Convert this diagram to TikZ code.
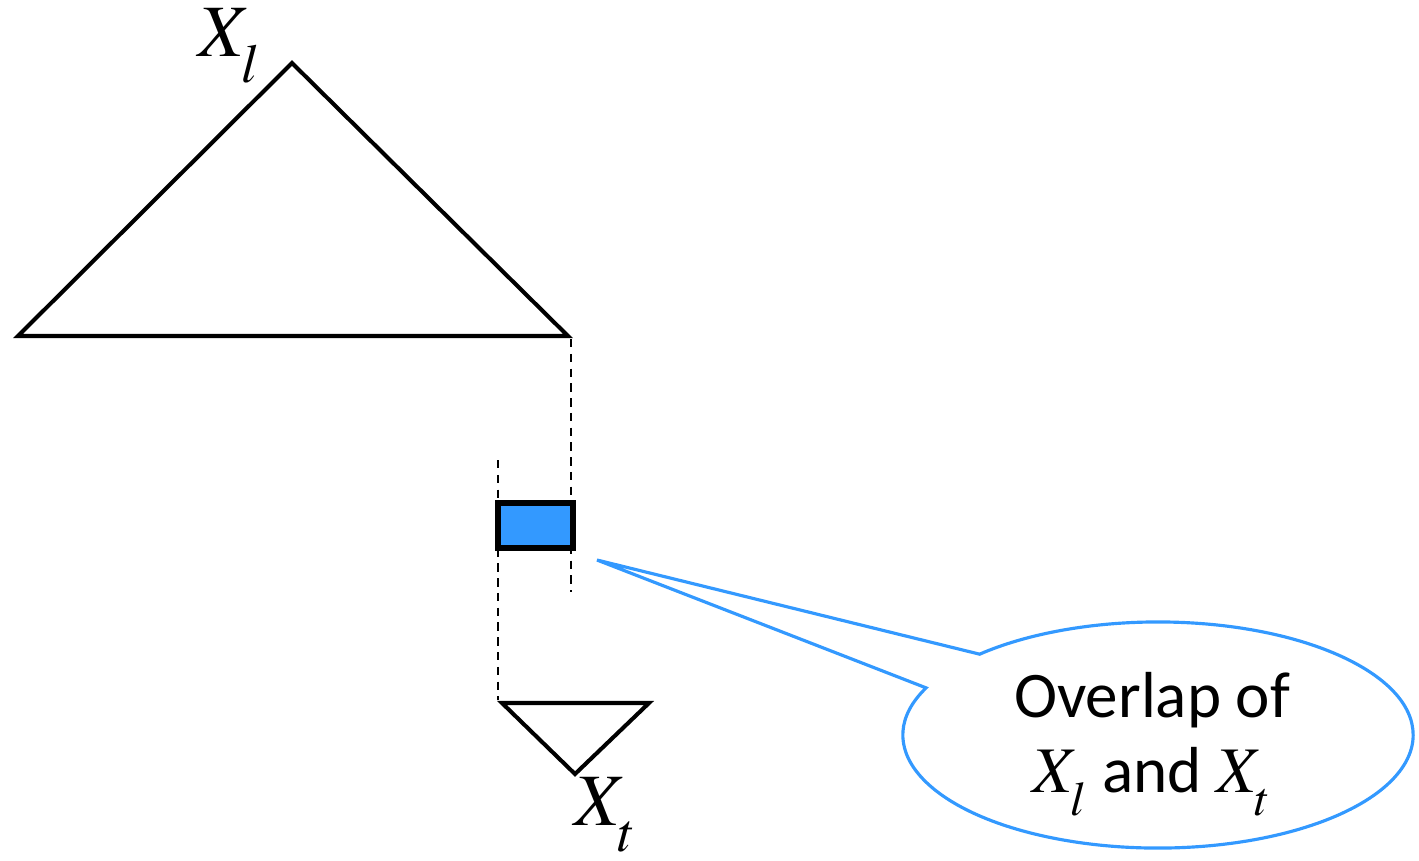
\documentclass[tikz,border=0pt]{standalone}
\usepackage{mathptmx}
\usepackage{fontspec}
\setmainfont{Carlito}
\usepackage{tikz}
\usetikzlibrary{shapes.callouts,arrows.meta}
\definecolor{overlapblue}{RGB}{51,153,255}
\newcommand{\setvar}[2]{$#1_{\raisebox{-0.2em}{$\scriptstyle #2$}}$}

\begin{document}
\begin{tikzpicture}[x=0.01cm,y=-0.01cm,>=Stealth]
    \useasboundingbox (0,0) rectangle (1419,860);
    \tikzset{tri/.style={line width=1.15pt,line join=miter},
             guide/.style={line width=0.6pt,dash pattern=on 2.4pt off 1.8pt},
             varlabel/.style={inner sep=0pt,font=\fontsize{21}{24}\selectfont}}
    % big and small triangles
    \coordinate (ltop) at (292,63); \coordinate (lleft) at (18,336); \coordinate (lright) at (568,336);
    \draw[tri] (ltop)--(lright)--(lleft)--cycle;
    \coordinate (tleft) at (502,703); \coordinate (tright) at (649,703); \coordinate (tbot) at (575,774);
    \draw[tri] (tleft)--(tright)--(tbot)--cycle;
    \node[varlabel] (xl) at (230,46) {\setvar{X}{l}};
    \node[varlabel] (xt) at (606,815) {\setvar{X}{t}};
    % guides through the overlap
    \coordinate (rtop) at (571,339); \coordinate (rbot) at (571,592);
    \coordinate (ltopg) at (498,460); \coordinate (lbot) at (498,700);
    \draw[guide] (rtop)--(rbot);
    \draw[guide] (ltopg)--(lbot);
    \draw[fill=overlapblue,line width=1.5pt] (498,503) rectangle (573,548);
    % callout
    \coordinate (tip) at (597,560);
    \node[ellipse callout,draw=overlapblue,line width=0.9pt,minimum width=5.1cm,minimum height=2.26cm,
          callout absolute pointer={(tip)},callout pointer arc=21] (note) at (1158,735) {};
    \node[align=center,inner sep=0pt,font=\fontsize{18.5}{21.5}\selectfont] (notetext) at (1152,744)
          {Overlap of\\\setvar{X}{l} and \setvar{X}{t}};
\end{tikzpicture}
\end{document}
